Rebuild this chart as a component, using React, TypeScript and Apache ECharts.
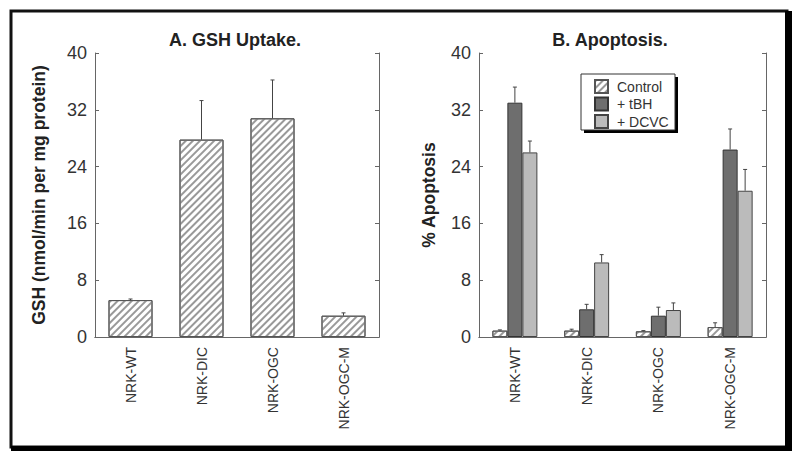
import React, { useEffect, useRef } from "react";
import * as echarts from "echarts";

const categories = ["NRK-WT", "NRK-DIC", "NRK-OGC", "NRK-OGC-M"];
const gshUptake = [5.2, 27.8, 30.8, 3.0];
const gshErr = [0.15, 5.5, 5.4, 0.4];

const seriesNames = ["Control", "+ tBH", "+ DCVC"];
const controlApop = [0.9, 0.9, 0.8, 1.4];
const controlErr = [0.1, 0.2, 0.1, 0.6];
const tbhApop = [33.0, 3.9, 3.0, 26.4];
const tbhErr = [2.2, 0.7, 1.2, 2.9];
const dcvcApop = [26.0, 10.5, 3.8, 20.6];
const dcvcErr = [1.6, 1.1, 1.0, 3.0];

const yMin = 0;
const yMax = 40;
const yInterval = 8;

const FONT = "Liberation Sans, Arial, Helvetica, sans-serif";
const AXIS = "#666";
const TEXT = "#333";

const hatch = {
  symbol: "rect",
  symbolSize: 1,
  color: "#999",
  dashArrayX: [1, 0],
  dashArrayY: [1.3, 2.1],
  rotation: -Math.PI / 4,
};

function errorSeries(name: string, vals: number[], errs: number[], xi: number, yi: number, offset: number) {
  return {
    type: "custom",
    name: name + "-err",
    xAxisIndex: xi,
    yAxisIndex: yi,
    z: 10,
    silent: true,
    data: vals.map((v, i) => [i, v, errs[i]]),
    renderItem: (params: any, api: any) => {
      const x = api.value(0);
      const v = api.value(1);
      const e = api.value(2);
      const p0 = api.coord([x, v]);
      const p1 = api.coord([x, v + e]);
      const cx = p0[0] + offset;
      return {
        type: "group",
        children: [
          { type: "line", shape: { x1: cx, y1: p0[1], x2: cx, y2: p1[1] }, style: { stroke: "#444", lineWidth: 1 } },
          { type: "line", shape: { x1: cx - 2, y1: p1[1], x2: cx + 2, y2: p1[1] }, style: { stroke: "#444", lineWidth: 1 } },
        ],
      };
    },
  };
}

function xAxes(gridIndex: number) {
  return [
    {
      type: "category",
      gridIndex,
      data: categories,
      position: "bottom",
      axisLine: { lineStyle: { color: AXIS, width: 1 } },
      axisTick: { inside: true, length: 4, lineStyle: { color: AXIS } },
      axisLabel: { rotate: 90, margin: 10, fontSize: 14, color: TEXT, fontFamily: FONT },
    },
    {
      type: "category",
      gridIndex,
      data: categories,
      position: "top",
      axisLine: { lineStyle: { color: AXIS, width: 1 } },
      axisTick: { inside: true, length: 4, lineStyle: { color: AXIS } },
      axisLabel: { show: false },
    },
  ];
}

function yAxes(gridIndex: number, name: string, nameGap: number) {
  return [
    {
      type: "value",
      gridIndex,
      min: yMin,
      max: yMax,
      interval: yInterval,
      position: "left",
      name,
      nameLocation: "middle",
      nameGap,
      nameTextStyle: { fontSize: 17.5, fontWeight: "bold", color: "#222", fontFamily: FONT },
      axisLine: { show: true, lineStyle: { color: AXIS, width: 1 } },
      axisTick: { show: true, inside: true, length: 4, lineStyle: { color: AXIS } },
      axisLabel: { fontSize: 18, color: TEXT, fontFamily: FONT, margin: 8 },
      splitLine: { show: false },
    },
    {
      type: "value",
      gridIndex,
      min: yMin,
      max: yMax,
      interval: yInterval,
      position: "right",
      axisLine: { show: true, lineStyle: { color: AXIS, width: 1 } },
      axisTick: { show: true, inside: true, length: 4, lineStyle: { color: AXIS } },
      axisLabel: { show: false },
      splitLine: { show: false },
    },
  ];
}

export default function App() {
  const ref = useRef<HTMLDivElement>(null);
  useEffect(() => {
    document.body.style.margin = "0";
    if (!ref.current) return;
    const chart = echarts.init(ref.current, undefined, { renderer: "svg" });
    const barW = 15;
    const option: any = {
      animation: false,
      backgroundColor: "#fff",
      textStyle: { fontFamily: FONT },
      grid: [
        { left: 95, top: 53, width: 284, height: 284 },
        { left: 479, top: 53, width: 287, height: 284 },
      ],
      xAxis: [...xAxes(0), ...xAxes(1)],
      yAxis: [
        ...yAxes(0, "GSH (nmol/min per mg protein)", 47),
        ...yAxes(1, "% Apoptosis", 41),
      ],
      legend: {
        data: seriesNames,
        orient: "vertical",
        left: 594,
        top: 79,
        padding: 0,
        itemWidth: 13,
        itemHeight: 13,
        itemGap: 2.5,
        icon: "rect",
        z: 20,
        textStyle: { fontSize: 14, color: TEXT, fontFamily: FONT, padding: [0, 0, 0, 4] },
      },
      graphic: [
        { type: "rect", z: 0, shape: { x: 11, y: 11, width: 776, height: 436 }, style: { fill: "none", stroke: "#111", lineWidth: 3 } },
        { type: "rect", z: 0, shape: { x: 785, y: 11, width: 7, height: 440 }, style: { fill: "#000" } },
        { type: "rect", z: 0, shape: { x: 11, y: 446, width: 781, height: 5 }, style: { fill: "#000" } },
        { type: "rect", z: 15, shape: { x: 584, y: 77, width: 94, height: 56 }, style: { fill: "#000" } },
        { type: "rect", z: 16, shape: { x: 581, y: 74, width: 94, height: 56 }, style: { fill: "#fff", stroke: "#333", lineWidth: 1 } },
        { type: "text", z: 5, style: { text: "A. GSH Uptake.", x: 235, y: 40, textAlign: "center", textVerticalAlign: "middle", font: `bold 18px ${FONT}`, fill: "#222" } },
        { type: "text", z: 5, style: { text: "B. Apoptosis.", x: 610, y: 40, textAlign: "center", textVerticalAlign: "middle", font: `bold 18px ${FONT}`, fill: "#222" } },
      ],
      series: [
        {
          type: "bar",
          name: "GSH Uptake",
          xAxisIndex: 0,
          yAxisIndex: 0,
          data: gshUptake,
          barWidth: 44,
          itemStyle: { color: "#fff", borderColor: "#555", borderWidth: 1, decal: hatch },
        },
        errorSeries("GSH Uptake", gshUptake, gshErr, 0, 0, 0),
        {
          type: "bar",
          name: seriesNames[0],
          xAxisIndex: 2,
          yAxisIndex: 2,
          data: controlApop,
          barWidth: barW,
          barGap: "0%",
          itemStyle: { color: "#fff", borderColor: "#555", borderWidth: 1, decal: hatch },
        },
        {
          type: "bar",
          name: seriesNames[1],
          xAxisIndex: 2,
          yAxisIndex: 2,
          data: tbhApop,
          barWidth: barW,
          barGap: "0%",
          itemStyle: { color: "#6e6e6e", borderColor: "#333", borderWidth: 1 },
        },
        {
          type: "bar",
          name: seriesNames[2],
          xAxisIndex: 2,
          yAxisIndex: 2,
          data: dcvcApop,
          barWidth: barW,
          barGap: "0%",
          itemStyle: { color: "#bbbbbb", borderColor: "#444", borderWidth: 1 },
        },
        errorSeries(seriesNames[0], controlApop, controlErr, 2, 2, -barW),
        errorSeries(seriesNames[1], tbhApop, tbhErr, 2, 2, 0),
        errorSeries(seriesNames[2], dcvcApop, dcvcErr, 2, 2, barW),
      ],
    };
    chart.setOption(option);
    return () => chart.dispose();
  }, []);
  return <div ref={ref} style={{ width: 800, height: 456 }} />;
}
